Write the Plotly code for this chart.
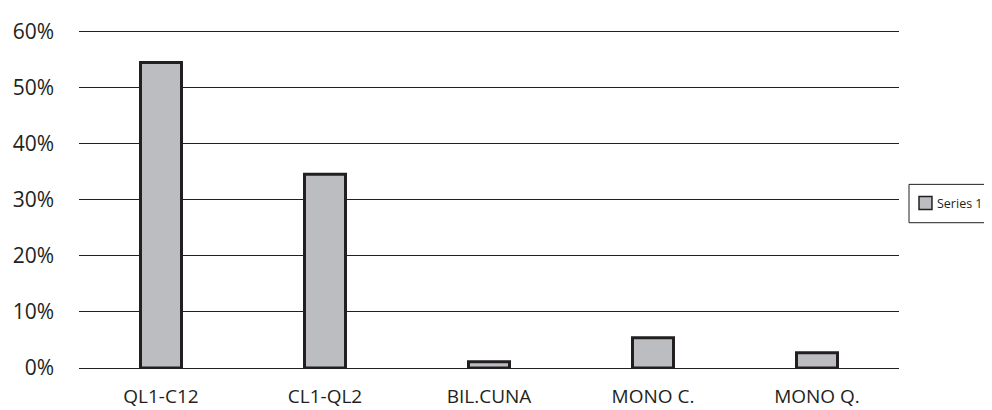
import plotly.graph_objects as go

categories = ["QL1-C12", "CL1-QL2", "BIL.CUNA", "MONO C.", "MONO Q."]
values = [0.545, 0.346, 0.011, 0.054, 0.027]
tick_vals = [0, 0.1, 0.2, 0.3, 0.4, 0.5, 0.6]
tick_text = ["0%", "10%", "20%", "30%", "40%", "50%", "60%"]
series_name = "Series 1"

INK = "#231f20"
BAR = "#bcbdc1"

fig = go.Figure(go.Bar(
    x=categories, y=values, name=series_name,
    marker=dict(color=BAR, line=dict(color=INK, width=3)),
    width=0.25, showlegend=False,
))

# manual legend box (paper coordinates)
fig.add_shape(type="rect", xref="paper", yref="paper",
              x0=1.0122, x1=1.1080, y0=0.4286, y1=0.5417,
              line=dict(color=INK, width=1), fillcolor="white")
fig.add_shape(type="rect", xref="paper", yref="paper",
              x0=1.0244, x1=1.0402, y0=0.4673, y1=0.5060,
              line=dict(color=INK, width=1.5), fillcolor=BAR)
fig.add_annotation(xref="paper", yref="paper", x=1.0445, y=0.4851,
                   xanchor="left", yanchor="middle", showarrow=False,
                   text=series_name, font=dict(size=12.5, color=INK))

fig.update_layout(
    width=984, height=402,
    margin=dict(l=71, r=93, t=21, b=42, autoexpand=False),
    paper_bgcolor="white", plot_bgcolor="white",
    font=dict(family="Open Sans", size=20, color=INK),
    showlegend=False,
    xaxis=dict(showgrid=False, showline=False, ticks="", tickfont=dict(size=19),
               range=[-0.5, 4.5], ticklabelstandoff=15, automargin=False),
    yaxis=dict(range=[0, 0.605], tickvals=tick_vals, ticktext=tick_text,
               tickfont=dict(size=21),
               showgrid=True, gridcolor=INK, gridwidth=1,
               zeroline=True, zerolinecolor=INK, zerolinewidth=1,
               showline=False, ticks="", ticklabelstandoff=24, automargin=False),
)

fig.write_html("out.html")
